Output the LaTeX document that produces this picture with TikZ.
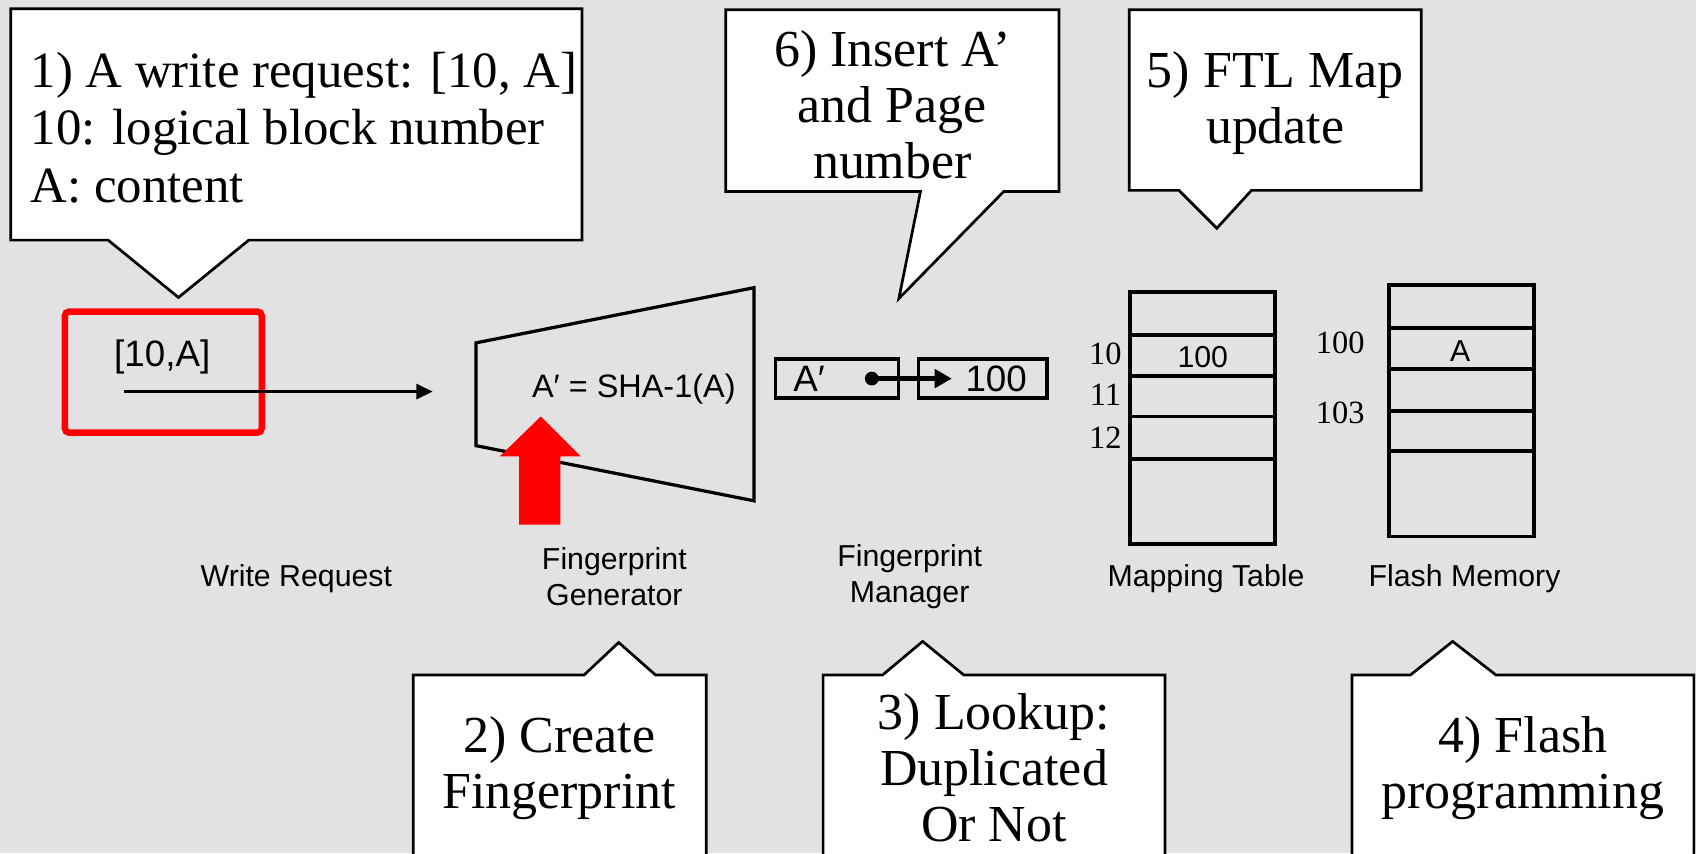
\documentclass[tikz,border=0pt]{standalone}
\usepackage{fontspec}
\setmainfont{Liberation Serif}
\setsansfont{Liberation Sans}
\usetikzlibrary{arrows.meta}
\definecolor{bg}{RGB}{226,226,226}
\definecolor{redc}{RGB}{255,0,0}
\tikzset{
  callout/.style={draw=black, fill=white, line width=1.25pt, line join=miter},
  calltext/.style={font=\fontsize{24}{26}\selectfont, align=center, inner sep=0pt},
  lbl/.style={font=\sffamily\fontsize{14}{16.5}\selectfont, align=center, inner sep=0pt},
  bigsans/.style={font=\sffamily\fontsize{17}{20}\selectfont, inner sep=0pt},
  smallsans/.style={font=\sffamily\fontsize{14}{16}\selectfont, inner sep=0pt},
  num/.style={font=\fontsize{15}{17}\selectfont, inner sep=0pt},
  cellbox/.style={line width=1.75pt},
  fpbox/.style={draw, line width=1.5pt, minimum height=18pt, inner sep=0pt}
}
\begin{document}
\begin{tikzpicture}[x=0.5pt, y=-0.5pt, line join=miter]
\fill[bg] (0,0) rectangle (1568,789);
\useasboundingbox (0,0) rectangle (1568,789);
\clip (0,0) rectangle (1568,789);

% callout 1
\draw[callout] (10,8) -- (538,8) -- (538,222) -- (230,222) -- (165,275) -- (100,222) -- (10,222) -- cycle;
\node[calltext, align=left, anchor=west, font=\fontsize{23.5}{26.75}\selectfont] (c1) at (28,118)
  {1) A write request: [10, A]\\10: logical block number\\A: content};

% callout 6
\draw[callout] (671,9) -- (979,9) -- (979,177) -- (928,177) -- (831,276) -- (851,177) -- (671,177) -- cycle;
\node[calltext] (c6) at (825,97) {6) Insert A’\\and Page\\number};

% callout 5
\draw[callout] (1044,9) -- (1314,9) -- (1314,176) -- (1157,176) -- (1125,211) -- (1090,176) -- (1044,176) -- cycle;
\node[calltext] (c5) at (1179,95) {5) FTL Map\\update};

% callout 2
\draw[callout] (382,624) -- (540,624) -- (572,594) -- (606,624) -- (653,624) -- (653,800) -- (382,800) -- cycle;
\node[calltext] (c2) at (517,710) {2) Create\\Fingerprint};

% callout 3
\draw[callout] (761,624) -- (816,624) -- (853,593) -- (891,624) -- (1077,624) -- (1077,800) -- (761,800) -- cycle;
\node[calltext] (c3) at (919,710) {3) Lookup:\\Duplicated\\Or Not};

% callout 4
\draw[callout] (1250,624) -- (1304,624) -- (1343,593) -- (1383,624) -- (1566,624) -- (1566,800) -- (1250,800) -- cycle;
\node[calltext] (c4) at (1408,710) {4) Flash\\programming};

% write request
\node[draw=redc, line width=3pt, minimum width=91pt, minimum height=56pt, rounded corners=2pt, inner sep=0pt] (wr) at (151,344) {};
\node[bigsans] (req) at (150,330) {[10,A]};
\coordinate (a0) at (115,362);
\coordinate (a1) at (400,362);
\draw[line width=1pt, -{Triangle[length=7.5pt,width=7pt]}] (a0) -- (a1);

% fingerprint generator
\coordinate (g1) at (440,317);
\coordinate (g2) at (697,266);
\coordinate (g3) at (697,463);
\coordinate (g4) at (440,412);
\draw[line width=1.5pt] (g1) -- (g2) -- (g3) -- (g4) -- cycle;
\node[font=\sffamily\fontsize{15}{18}\selectfont, inner sep=0pt] (sha) at (586,360) {A′ = SHA-1(A)};
\fill[redc] (480,485) -- (480,422) -- (462,422) -- (500,385) -- (537,422) -- (518,422) -- (518,485) -- cycle;

% fingerprint manager
\node[fpbox, minimum width=57pt] (fpa) at (774,350) {};
\node[fpbox, minimum width=59.5pt] (fpv) at (908.5,350) {};
\node[bigsans] (fpat) at (748,350) {A′};
\node[bigsans] (fpvt) at (921,350) {100};
\coordinate (dot) at (806,350);
\coordinate (tip) at (880,350);
\fill (dot) circle (3.2pt);
\draw[line width=2pt, -{Triangle[length=8pt,width=8.5pt]}] (dot) -- (tip);

% mapping table
\draw[cellbox] (1045,270) rectangle (1179,503);
\draw[cellbox] (1045,310) -- (1179,310);
\draw[cellbox] (1045,347.5) -- (1179,347.5);
\draw[cellbox] (1045,385) -- (1179,385);
\draw[cellbox] (1045,424) -- (1179,424);
\node[num] (m10) at (1022,327) {10};
\node[num] (m11) at (1022,365) {11};
\node[num] (m12) at (1022,405) {12};
\node[smallsans] (mv) at (1112,330) {100};

% flash memory
\draw[cellbox] (1284,263.5) rectangle (1418,496);
\draw[cellbox] (1284,303.5) -- (1418,303.5);
\draw[cellbox] (1284,341.5) -- (1418,341.5);
\draw[cellbox] (1284,380) -- (1418,380);
\draw[cellbox] (1284,417) -- (1418,417);
\node[num] (f100) at (1239,317) {100};
\node[num] (f103) at (1239,382) {103};
\node[smallsans] (fa) at (1350,325) {A};

% labels
\node[lbl] (lwr) at (274,535) {Write Request};
\node[lbl] (lfg) at (568,533) {Fingerprint\\Generator};
\node[lbl] (lfm) at (841,533) {Fingerprint\\Manager};
\node[lbl] (lmt) at (1115,535) {Mapping Table};
\node[lbl] (lfl) at (1354,535) {Flash Memory};
\end{tikzpicture}
\end{document}
